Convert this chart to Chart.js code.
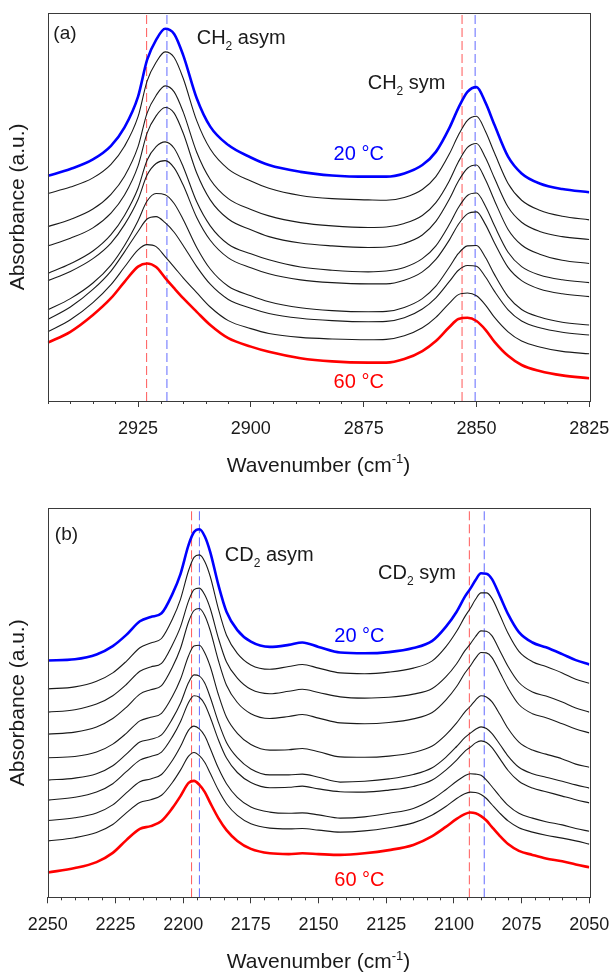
<!DOCTYPE html>
<html>
<head>
<meta charset="utf-8">
<script src="https://cdn.jsdelivr.net/npm/chart.js@4.4.1/dist/chart.umd.min.js"></script>
<style>
  html, body { margin: 0; padding: 0; background: #fff; }
  .panel { width: 614px; height: 486px; }
</style>
</head>
<body>
<div class="panel"><canvas id="chartCH" width="614" height="486"></canvas></div>
<div class="panel"><canvas id="chartCD" width="614" height="486"></canvas></div>
<script>
// ---- CH2 stretching region (panel a) ----
const waveCH = [2945, 2940, 2935, 2931, 2928, 2925, 2923, 2921, 2919, 2917, 2915, 2912, 2909, 2905, 2900,
  2896, 2889, 2882, 2874, 2870, 2866, 2862, 2859, 2856, 2854, 2852, 2850, 2848, 2846, 2843, 2840, 2836, 2831, 2825];

// traces listed top (20 °C) to bottom (60 °C), offset absorbance
const traceCH = [
  [.563, .580, .604, .638, .684, .761, .853, .903, .931, .918, .865, .757, .686, .640, .609, .590, .573, .564, .561, .561, .569, .590, .623, .683, .733, .773, .785, .746, .690, .611, .569, .544, .530, .522],
  [.519, .535, .558, .592, .637, .711, .800, .847, .873, .859, .807, .701, .630, .580, .550, .532, .514, .506, .503, .502, .509, .529, .561, .618, .665, .702, .712, .674, .620, .544, .502, .477, .462, .453],
  [.436, .454, .480, .517, .562, .636, .720, .764, .788, .773, .723, .622, .554, .506, .479, .463, .446, .438, .434, .435, .444, .464, .496, .551, .598, .634, .644, .608, .557, .485, .447, .424, .411, .404],
  [.388, .407, .433, .470, .515, .588, .670, .713, .734, .720, .670, .570, .503, .455, .428, .411, .395, .388, .384, .385, .394, .415, .449, .505, .550, .582, .590, .553, .501, .429, .390, .367, .352, .344],
  [.319, .343, .375, .416, .464, .532, .602, .636, .648, .632, .586, .498, .438, .392, .368, .353, .335, .327, .323, .325, .334, .356, .388, .442, .484, .514, .520, .487, .438, .372, .336, .315, .303, .296],
  [.301, .324, .356, .395, .441, .504, .565, .594, .601, .583, .540, .459, .402, .358, .333, .318, .303, .296, .293, .293, .302, .323, .354, .403, .442, .468, .473, .441, .395, .334, .301, .280, .268, .261],
  [.228, .256, .295, .340, .389, .451, .500, .519, .516, .494, .454, .384, .330, .287, .263, .248, .233, .226, .223, .224, .234, .256, .287, .335, .369, .388, .389, .359, .316, .261, .229, .210, .197, .190],
  [.204, .235, .279, .325, .373, .424, .455, .461, .446, .422, .389, .336, .292, .254, .232, .219, .207, .201, .198, .199, .208, .230, .258, .299, .327, .339, .337, .310, .274, .228, .200, .183, .172, .165],
  [.173, .203, .246, .291, .335, .378, .391, .386, .361, .335, .308, .271, .235, .201, .181, .169, .159, .155, .153, .154, .163, .183, .209, .245, .266, .270, .263, .240, .209, .173, .150, .135, .124, .118],
  [.146, .173, .215, .257, .298, .336, .344, .335, .308, .282, .257, .223, .190, .157, .136, .123, .107, .099, .096, .096, .105, .125, .150, .185, .205, .208, .200, .178, .148, .113, .090, .075, .064, .057]
];

// band positions at 60 °C / 20 °C (asym, then sym)
const peaksCH = [2923.1, 2918.6, 2853.2, 2850.3];

// ---- CD2 stretching region (panel b) ----
const waveCD = [2250, 2240, 2232, 2226, 2221, 2216, 2212, 2208, 2204, 2201, 2198, 2196, 2194, 2192, 2190, 2187,
  2184, 2180, 2175, 2168, 2161, 2156, 2150, 2142, 2133, 2124, 2115, 2108, 2103, 2099, 2096, 2094, 2092, 2090,
  2088, 2086, 2083, 2080, 2076, 2071, 2066, 2060, 2055, 2050];

const traceCD = [
  [.592, .595, .607, .628, .656, .690, .701, .710, .758, .808, .881, .913, .920, .902, .863, .781, .714, .668, .639, .626, .631, .637, .626, .612, .610, .613, .623, .641, .676, .714, .751, .771, .793, .810, .809, .796, .753, .708, .663, .637, .625, .608, .593, .582],
  [.521, .526, .540, .561, .590, .624, .636, .647, .695, .745, .817, .850, .856, .839, .802, .721, .655, .610, .581, .570, .577, .582, .573, .561, .559, .563, .573, .591, .626, .665, .701, .722, .745, .761, .761, .748, .705, .660, .615, .589, .577, .561, .545, .535],
  [.463, .469, .483, .504, .532, .565, .576, .585, .631, .676, .741, .769, .773, .756, .722, .648, .588, .548, .520, .509, .515, .520, .512, .501, .498, .500, .508, .522, .551, .584, .616, .633, .652, .666, .665, .654, .616, .577, .537, .513, .503, .488, .473, .463],
  [.408, .413, .426, .447, .475, .508, .519, .529, .575, .622, .689, .717, .722, .704, .667, .592, .530, .487, .459, .447, .452, .457, .448, .436, .434, .437, .446, .462, .493, .527, .560, .578, .598, .612, .611, .600, .562, .523, .482, .459, .449, .434, .421, .411],
  [.349, .352, .363, .383, .410, .441, .450, .460, .502, .545, .604, .628, .630, .611, .577, .507, .450, .410, .382, .368, .369, .372, .364, .351, .350, .353, .362, .378, .406, .436, .463, .477, .493, .504, .501, .489, .457, .422, .388, .368, .358, .346, .333, .325],
  [.293, .298, .309, .329, .358, .388, .395, .406, .446, .485, .537, .556, .553, .535, .500, .438, .387, .349, .321, .306, .306, .308, .300, .288, .290, .296, .307, .324, .350, .377, .399, .410, .420, .426, .422, .410, .382, .353, .325, .309, .300, .290, .281, .273],
  [.243, .250, .263, .284, .314, .343, .352, .363, .401, .439, .487, .504, .500, .482, .450, .394, .348, .312, .287, .274, .275, .278, .271, .264, .263, .268, .277, .293, .318, .343, .365, .375, .386, .391, .387, .375, .346, .317, .290, .273, .264, .253, .244, .236],
  [.192, .199, .211, .231, .261, .289, .296, .307, .342, .377, .418, .428, .421, .403, .372, .323, .284, .250, .226, .213, .210, .211, .206, .198, .201, .210, .222, .245, .269, .290, .304, .309, .308, .305, .293, .277, .252, .230, .210, .198, .189, .181, .172, .165],
  [.141, .149, .162, .182, .211, .237, .244, .255, .287, .318, .353, .362, .354, .337, .310, .268, .234, .205, .184, .173, .171, .172, .168, .163, .166, .174, .186, .206, .227, .247, .259, .263, .262, .257, .247, .232, .210, .191, .174, .163, .155, .148, .141, .133],
  [.062, .073, .088, .111, .143, .171, .178, .191, .223, .253, .286, .291, .281, .263, .236, .198, .168, .141, .121, .110, .108, .110, .108, .106, .110, .118, .131, .153, .176, .196, .208, .212, .210, .203, .192, .176, .153, .133, .116, .106, .097, .090, .082, .075]
];

const peaksCD = [2196.9, 2194.0, 2094.3, 2088.8];

const FONT = '"Liberation Sans", Arial, Helvetica, sans-serif';
const INK = '#1a1a1a';
const FRAME = '#3a3a3a';
const COOL = '#0000ff';
const WARM = '#ff0000';

function spectrumSets(wave, traces, peaks, yTop) {
  const last = traces.length - 1;
  const sets = traces.map((vals, i) => ({
    data: vals.map((v, j) => ({ x: wave[j], y: v })),
    borderColor: i === 0 ? COOL : i === last ? WARM : INK,
    borderWidth: i === 0 || i === last ? 2.6 : 1.1,
    pointRadius: 0,
    cubicInterpolationMode: 'monotone',
    fill: false
  }));
  // dashed guides at the band maxima
  peaks.forEach((w, i) => {
    sets.push({
      data: [{ x: w, y: 0 }, { x: w, y: yTop }],
      borderColor: i % 2 === 0 ? 'rgba(255,70,70,0.9)' : 'rgba(80,90,255,0.9)',
      borderWidth: 1,
      borderDash: [9, 4],
      pointRadius: 0,
      tension: 0
    });
  });
  return sets;
}

// text with sub/superscript pieces: [[text], [text, 'sub'|'sup'], ...]
function drawRich(ctx, parts, x, y, size, color, align) {
  const small = Math.round(size * 0.62);
  const fontOf = p => (p[1] ? small : size) + 'px ' + FONT;
  let width = 0;
  parts.forEach(p => { ctx.font = fontOf(p); width += ctx.measureText(p[0]).width; });
  let cx = align === 'center' ? x - width / 2 : x;
  ctx.fillStyle = color;
  ctx.textAlign = 'left';
  ctx.textBaseline = 'alphabetic';
  parts.forEach(p => {
    ctx.font = fontOf(p);
    const dy = p[1] === 'sub' ? size * 0.3 : p[1] === 'sup' ? -size * 0.4 : 0;
    ctx.fillText(p[0], cx, y + dy);
    cx += ctx.measureText(p[0]).width;
  });
}

const panelDecor = {
  id: 'panelDecor',
  afterDraw(chart, _args, opts) {
    const { ctx, chartArea: area, scales: { x, y } } = chart;
    ctx.save();
    ctx.strokeStyle = FRAME;
    ctx.lineWidth = 1;
    // minor ticks every 5 cm-1
    ctx.beginPath();
    for (let w = Math.ceil(x.min / 5) * 5; w <= x.max; w += 5) {
      if (w % 25 === 0) continue;
      const px = Math.round(x.getPixelForValue(w)) + 0.5;
      ctx.moveTo(px, area.bottom);
      ctx.lineTo(px, area.bottom + 3);
    }
    ctx.stroke();
    // box
    ctx.strokeRect(Math.round(area.left) + 0.5, Math.round(area.top) + 0.5,
      Math.round(area.right - area.left), Math.round(area.bottom - area.top));
    // panel tag
    ctx.font = '19px ' + FONT;
    ctx.fillStyle = INK;
    ctx.textAlign = 'left';
    ctx.textBaseline = 'alphabetic';
    ctx.fillText(opts.tag, area.left + opts.tagDx, area.top + opts.tagDy);
    // band and temperature labels
    opts.notes.forEach(n => {
      drawRich(ctx, n.parts, x.getPixelForValue(n.x), y.getPixelForValue(n.y), 20, n.color || INK, n.align || 'left');
    });
    // x axis title
    drawRich(ctx, [['Wavenumber (cm'], ['-1', 'sup'], [')']],
      (area.left + area.right) / 2, area.bottom + 70.8, 21, INK, 'center');
    ctx.restore();
  }
};

function panelOptions(p) {
  return {
    responsive: false,
    animation: false,
    devicePixelRatio: 1,
    layout: { padding: { top: p.padTop, right: 24.7, bottom: 0, left: 0 } },
    plugins: {
      legend: { display: false },
      tooltip: { enabled: false },
      panelDecor: p.decor
    },
    scales: {
      x: {
        type: 'linear',
        reverse: true,
        min: p.min,
        max: p.max,
        ticks: {
          stepSize: 25,
          includeBounds: false,
          autoSkip: false,
          maxRotation: 0,
          padding: 11,
          color: INK,
          font: { family: FONT, size: 18 },
          callback: v => String(v)
        },
        grid: { drawOnChartArea: false, drawTicks: true, tickLength: 6, color: FRAME, lineWidth: 1 },
        border: { display: false },
        afterFit: s => { s.height = p.axisH; s.paddingLeft = 0; s.paddingRight = 0; }
      },
      y: {
        min: 0,
        max: p.yTop,
        ticks: { display: false },
        grid: { display: false },
        border: { display: false },
        title: {
          display: true,
          text: 'Absorbance (a.u.)',
          color: INK,
          font: { family: FONT, size: 21 },
          padding: { top: 6, bottom: 0 }
        },
        afterFit: s => { s.width = 47.8; }
      }
    }
  };
}

const topCH = 0.971;
new Chart(document.getElementById('chartCH'), {
  type: 'line',
  data: { datasets: spectrumSets(waveCH, traceCH, peaksCH, topCH) },
  options: panelOptions({
    min: 2825, max: 2945, yTop: topCH, padTop: 12.7, axisH: 85,
    decor: {
      tag: '(a)', tagDx: 5.5, tagDy: 26,
      notes: [
        { parts: [['CH'], ['2', 'sub'], [' asym']], x: 2912, y: 0.892 },
        { parts: [['CH'], ['2', 'sub'], [' sym']], x: 2874.1, y: 0.779 },
        { parts: [['20 °C']], x: 2876.1, y: 0.6025, color: COOL, align: 'center' },
        { parts: [['60 °C']], x: 2876.1, y: 0.0325, color: WARM, align: 'center' }
      ]
    }
  }),
  plugins: [panelDecor]
});

const topCD = 0.9725;
new Chart(document.getElementById('chartCD'), {
  type: 'line',
  data: { datasets: spectrumSets(waveCD, traceCD, peaksCD, topCD) },
  options: panelOptions({
    min: 2050, max: 2250, yTop: topCD, padTop: 22.3, axisH: 74.7,
    decor: {
      tag: '(b)', tagDx: 7, tagDy: 32,
      notes: [
        { parts: [['CD'], ['2', 'sub'], [' asym']], x: 2184.6, y: 0.841 },
        { parts: [['CD'], ['2', 'sub'], [' sym']], x: 2128.0, y: 0.796 },
        { parts: [['20 °C']], x: 2134.9, y: 0.638, color: COOL, align: 'center' },
        { parts: [['60 °C']], x: 2134.9, y: 0.028, color: WARM, align: 'center' }
      ]
    }
  }),
  plugins: [panelDecor]
});
</script>
</body>
</html>
